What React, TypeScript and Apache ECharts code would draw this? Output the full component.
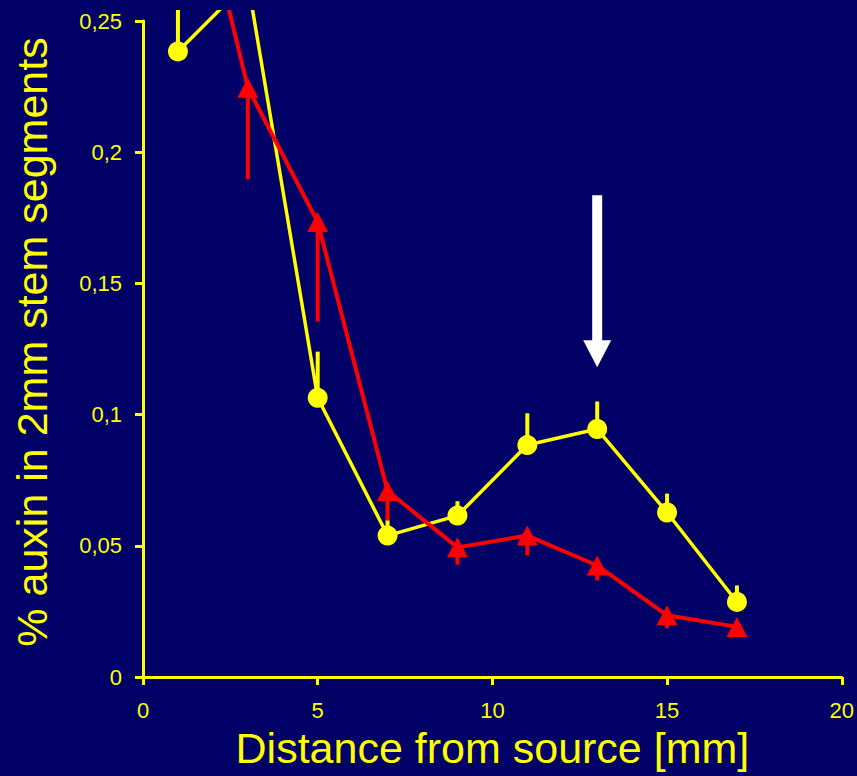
import React, { useEffect, useRef } from "react";
import * as echarts from "echarts";

// Distance from source [mm]
const distance = [1, 3, 5, 7, 9, 11, 13, 15, 17];
// yellow series (circles) and its upper error bar ends
const yellowAuxin = [0.2384, 0.265, 0.1064, 0.0539, 0.0615, 0.0884, 0.0945, 0.0627, 0.0286];
const yellowErrHigh = [0.28, 0.29, 0.124, 0.06, 0.067, 0.1005, 0.105, 0.0699, 0.0349];
// red series (triangles) and its lower error bar ends
const redAuxin = [0.335, 0.2246, 0.1734, 0.0709, 0.0494, 0.0539, 0.0425, 0.0235, 0.0191];
const redErrLow = [0.3, 0.1898, 0.1355, 0.0596, 0.0428, 0.0463, 0.0368, 0.0186, 0.0191];
// white arrow: [x, start value, tip value]
const arrow = [[13, 0.1836, 0.118]];

const xTicks = { min: 0, max: 20, interval: 5 };
const yTicks = { min: 0, max: 0.25, interval: 0.05 };

const xTitle = "Distance from source [mm]";
const yTitle = "% auxin in 2mm stem segments";

const YELLOW = "#FFFF00";
const RED = "#FF0000";
const BG = "#000066";
const FONT = "'Liberation Sans', Arial, sans-serif";

function errorBarSeries(vals: number[], ends: number[], color: string) {
  return {
    type: "custom",
    clip: false,
    silent: true,
    data: distance.map((d, i) => [d, vals[i], ends[i]]),
    encode: { x: 0, y: [1, 2] },
    renderItem: (_params: any, api: any) => {
      const x = api.value(0);
      const p1 = api.coord([x, api.value(1)]);
      const p2 = api.coord([x, api.value(2)]);
      return {
        type: "line",
        shape: { x1: p1[0], y1: p1[1], x2: p2[0], y2: p2[1] },
        style: { stroke: color, lineWidth: 4 },
      };
    },
  };
}

export default function App() {
  const ref = useRef<HTMLDivElement>(null);
  useEffect(() => {
    if (!ref.current) return;
    const chart = echarts.init(ref.current, undefined, { renderer: "svg" });
    chart.setOption({
      animation: false,
      backgroundColor: BG,
      grid: { left: 143, right: 12, top: 10, bottom: 99, containLabel: false },
      xAxis: {
        type: "value",
        ...xTicks,
        name: xTitle,
        nameLocation: "middle",
        nameGap: 49,
        nameTextStyle: { color: YELLOW, fontSize: 43, fontFamily: FONT },
        axisLine: { show: true, onZero: false, lineStyle: { color: YELLOW, width: 3 } },
        axisTick: { show: true, inside: false, length: 8, lineStyle: { color: YELLOW, width: 3 } },
        axisLabel: { color: YELLOW, fontSize: 22, fontFamily: FONT, margin: 22 },
        splitLine: { show: false },
      },
      yAxis: {
        type: "value",
        ...yTicks,
        name: yTitle,
        nameLocation: "middle",
        nameGap: 90,
        nameTextStyle: { color: YELLOW, fontSize: 43, fontFamily: FONT, padding: [0, 0, 0, 14] },
        axisLine: { show: true, onZero: false, lineStyle: { color: YELLOW, width: 3 } },
        axisTick: { show: true, inside: false, length: 8, lineStyle: { color: YELLOW, width: 3 } },
        axisLabel: {
          color: YELLOW,
          fontSize: 22,
          fontFamily: FONT,
          margin: 21,
          formatter: (v: number) => String(Number(v.toFixed(4))).replace(".", ","),
        },
        splitLine: { show: false },
      },
      series: [
        errorBarSeries(yellowAuxin, yellowErrHigh, YELLOW),
        {
          type: "line",
          clip: false,
          data: distance.map((d, i) => [d, yellowAuxin[i]]),
          symbol: "circle",
          symbolSize: 20,
          showAllSymbol: true,
          itemStyle: { color: YELLOW },
          lineStyle: { color: YELLOW, width: 3.5 },
        },
        errorBarSeries(redAuxin, redErrLow, RED),
        {
          type: "line",
          clip: false,
          data: distance.map((d, i) => [d, redAuxin[i]]),
          symbol: "triangle",
          symbolSize: [21, 20],
          showAllSymbol: true,
          itemStyle: { color: RED },
          lineStyle: { color: RED, width: 4 },
        },
        {
          type: "custom",
          clip: false,
          silent: true,
          data: arrow,
          encode: { x: 0, y: [1, 2] },
          renderItem: (_params: any, api: any) => {
            const x = api.value(0);
            const top = api.coord([x, api.value(1)]);
            const tip = api.coord([x, api.value(2)]);
            const headH = 27;
            const headW = 28;
            const shaftW = 10;
            return {
              type: "group",
              children: [
                {
                  type: "rect",
                  shape: { x: top[0] - shaftW / 2, y: top[1], width: shaftW, height: tip[1] - headH - top[1] + 1 },
                  style: { fill: "#FFFFFF" },
                },
                {
                  type: "polygon",
                  shape: {
                    points: [
                      [tip[0] - headW / 2, tip[1] - headH],
                      [tip[0] + headW / 2, tip[1] - headH],
                      [tip[0], tip[1]],
                    ],
                  },
                  style: { fill: "#FFFFFF" },
                },
              ],
            };
          },
        },
      ],
    });
    return () => chart.dispose();
  }, []);
  return (
    <div style={{ position: "absolute", left: 0, top: 0, width: 857, height: 776, background: BG, overflow: "hidden" }}>
      <div ref={ref} style={{ position: "absolute", left: 0, top: 10, width: 857, height: 766 }} />
    </div>
  );
}
